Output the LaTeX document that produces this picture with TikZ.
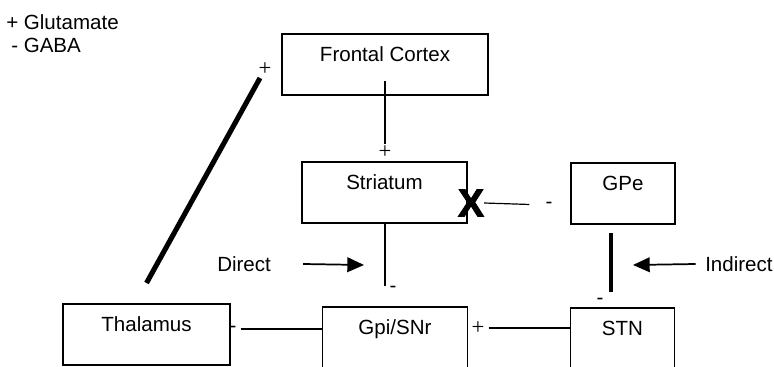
\documentclass[tikz,border=0pt]{standalone}
\usepackage{fontspec}
\setmainfont{Liberation Sans}
\newfontfamily\signfont{Liberation Serif}
\newfontfamily\blockfont[BoldFeatures={FakeBold=2.5}]{Liberation Sans}
\usetikzlibrary{arrows.meta, positioning, calc}

\begin{document}
\begin{tikzpicture}[x=0.75pt, y=-0.75pt,
  font=\fontsize{15.4}{18}\selectfont,
  box/.style={draw, line width=1.2pt, inner xsep=0pt, inner ysep=0pt,
              text height=21pt, text depth=25pt, anchor=north},
  openbox/.style={box, text depth=34pt},
  txt/.style={inner sep=0pt, anchor=west},
  plus/.style={inner sep=0pt, font=\signfont\fontsize{17}{18}\selectfont},
  minus/.style={inner sep=0pt},
  thinlink/.style={line width=0.9pt},
  midlink/.style={line width=1.5pt},
  thicklink/.style={line width=3pt},
  arr/.style={-{Triangle[length=12.5pt, width=11pt]}, line width=1.3pt}]
\useasboundingbox (0,0) rectangle (774,367);
\clip (0,0) rectangle (774,367);
% legend
\node[txt] (glu) at (6,22) {+ Glutamate};
\node[txt] (gaba) at (11,45) {- GABA};
% nuclei
\node[box, minimum width=154.5pt] (cortex) at (385,33) {Frontal Cortex};
\node[box, minimum width=123.75pt] (striatum) at (384.5,161) {Striatum};
\node[box, minimum width=78pt] (gpe) at (623,162) {GPe};
\node[box, minimum width=125.25pt] (thalamus) at (146.5,303) {Thalamus};
\node[openbox, minimum width=108.75pt] (gpi) at (395,306) {Gpi/SNr};
\node[openbox, minimum width=78pt] (stn) at (622.5,307) {STN};
% signs
\node[plus] (pluscs) at (385,152) {+};
\node[plus] (plusth) at (265,69) {+};
\node[plus] (plusgpi) at (478,328) {+};
\node[minus] (minusgx) at (549,205) {-};
\node[minus] (minussg) at (393,289) {-};
\node[minus] (minusgs) at (600,301) {-};
\node[minus] (minusth) at (233,329) {-};
\node[inner sep=0pt, font=\blockfont\bfseries\fontsize{29}{30}\selectfont] (block) at (471,203) {X};
% pathway labels
\node[txt] (direct) at (217,264) {Direct};
\node[txt] (indirect) at (705,264) {Indirect};
\coordinate (dtip) at (364,265);
\coordinate (itip) at (633,265);
% connectors
\draw[midlink] ($(cortex.south)+(0,-15)$) -- ($(pluscs.north)+(0,-1)$);
\draw[midlink] (striatum.south) -- (striatum.south |- minussg.north);
\draw[thicklink] ($(gpe.south)+(-12,8)$) -- ($(stn.north)+(-11.5,-15)$);
\draw[line width=3.8pt] ($(thalamus.north)+(0,-20)$) -- ($(plusth)+(-5,9)$);
\draw[thinlink, shorten >=12pt] (block.east) -- (minusgx.west);
\draw[thinlink, shorten <=3pt] (minusth.east) -- (gpi.west |- minusth);
\draw[thinlink, shorten <=3pt] (plusgpi.east) -- (stn.west |- plusgpi);
\draw[arr] ([xshift=24pt]direct.east) -- (dtip);
\draw[arr] ([xshift=-7pt]indirect.west) -- (itip);
\end{tikzpicture}
\end{document}
